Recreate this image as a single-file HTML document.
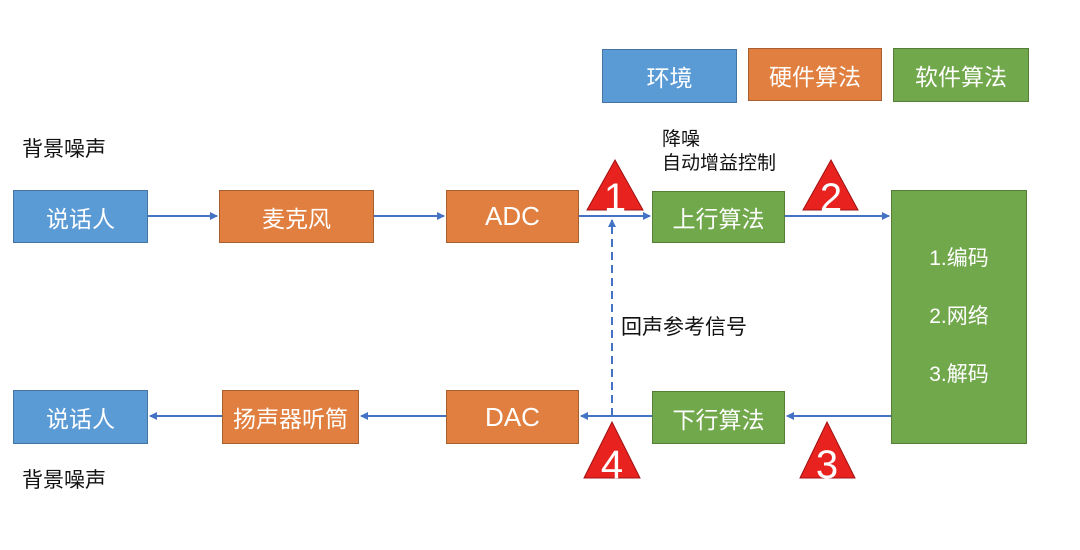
<!DOCTYPE html>
<html><head><meta charset="utf-8"><style>
body{margin:0;width:1080px;height:550px;background:#fff;position:relative;overflow:hidden;font-family:"Liberation Sans","Noto Sans CJK SC",sans-serif}
.b{position:absolute;color:#fff;display:flex;align-items:center;justify-content:center;font-size:23px;box-sizing:border-box;border:1px solid rgba(0,0,0,0.25)}
.bl{background:#5b9bd5}.or{background:#e07f3f}.gr{background:#72a84c}
.t{position:absolute;font-size:21px;color:#111;line-height:1.25}
</style></head><body>
<div class="b bl" style="left:602px;top:49px;width:135px;height:54px">环境</div>
<div class="b or" style="left:748px;top:48px;width:134px;height:53px">硬件算法</div>
<div class="b gr" style="left:893px;top:48px;width:136px;height:54px">软件算法</div>

<div class="b bl" style="left:13px;top:190px;width:135px;height:53px">说话人</div>
<div class="b or" style="left:219px;top:190px;width:155px;height:53px">麦克风</div>
<div class="b or" style="left:446px;top:190px;width:133px;height:53px;font-size:26px">ADC</div>
<div class="b gr" style="left:652px;top:191px;width:133px;height:52px">上行算法</div>
<div class="b gr" style="left:891px;top:190px;width:136px;height:254px;flex-direction:column;font-size:21px;line-height:58px">
<div>1.编码</div><div>2.网络</div><div>3.解码</div></div>

<div class="b bl" style="left:13px;top:390px;width:135px;height:54px">说话人</div>
<div class="b or" style="left:222px;top:390px;width:137px;height:54px">扬声器听筒</div>
<div class="b or" style="left:446px;top:390px;width:133px;height:54px;font-size:26px">DAC</div>
<div class="b gr" style="left:652px;top:391px;width:133px;height:53px">下行算法</div>

<div class="t" style="left:22px;top:137px">背景噪声</div>
<div class="t" style="left:22px;top:468px">背景噪声</div>
<div class="t" style="left:662px;top:128px;font-size:19px">降噪<br>自动增益控制</div>
<div class="t" style="left:621px;top:315px">回声参考信号</div>

<svg width="1080" height="550" style="position:absolute;left:0;top:0">
<defs><marker id="a" markerWidth="8" markerHeight="8" refX="7" refY="4" orient="auto" markerUnits="userSpaceOnUse"><path d="M0,0 L8,4 L0,8 z" fill="#4472c4"/></marker></defs>
<g stroke="#4472c4" stroke-width="2" fill="none">
<line x1="148" y1="216" x2="217" y2="216" marker-end="url(#a)"/>
<line x1="374" y1="216" x2="444" y2="216" marker-end="url(#a)"/>
<line x1="579" y1="216" x2="650" y2="216" marker-end="url(#a)"/>
<line x1="785" y1="216" x2="889" y2="216" marker-end="url(#a)"/>
<line x1="891" y1="416" x2="787" y2="416" marker-end="url(#a)"/>
<line x1="652" y1="416" x2="581" y2="416" marker-end="url(#a)"/>
<line x1="446" y1="416" x2="361" y2="416" marker-end="url(#a)"/>
<line x1="222" y1="416" x2="150" y2="416" marker-end="url(#a)"/>
<line x1="612" y1="416" x2="612" y2="220" stroke-dasharray="8,5" marker-end="url(#a)"/>
</g>
<g fill="#e8231f" stroke="#a01010" stroke-width="1">
<polygon points="615,160 643,210 587,210"/>
<polygon points="831,160 858,210 803,210"/>
<polygon points="827,422 855,478 800,478"/>
<polygon points="612,422 640,478 584,478"/>
</g>
<g fill="#fff" font-family="Liberation Sans,sans-serif" font-size="40" text-anchor="middle">
<text x="615" y="211">1</text><text x="831" y="211">2</text>
<text x="827" y="478">3</text><text x="612" y="478">4</text>
</g>
</svg>
</body></html>
